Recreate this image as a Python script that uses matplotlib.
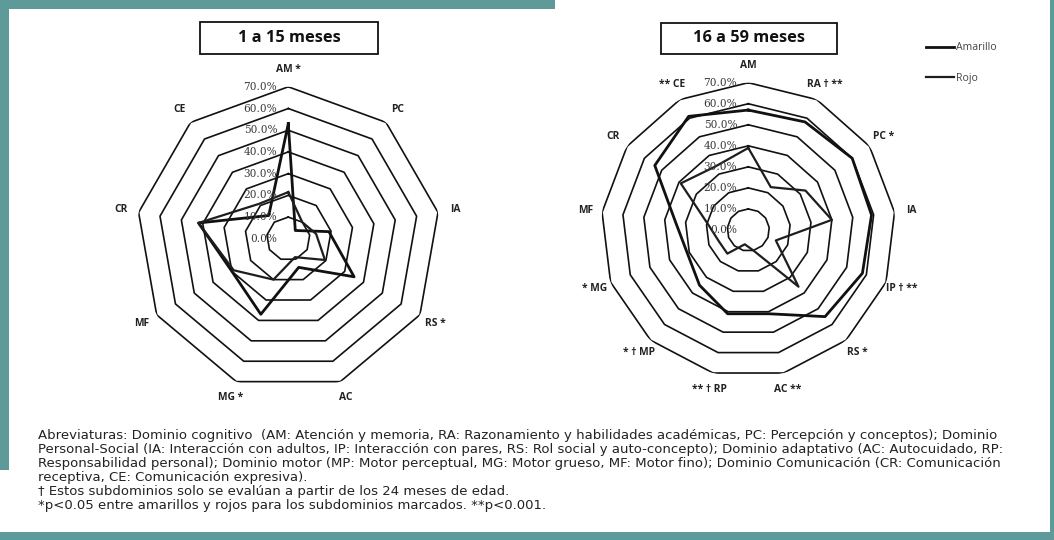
import matplotlib
matplotlib.use("Agg")
import matplotlib.pyplot as plt
import numpy as np
from matplotlib.patches import Rectangle

plt.rcParams["font.family"] = ["Open Sans", "DejaVu Sans"]

# ---- data ----
cats_1 = ["AM *", "PC", "IA", "RS *", "AC", "MG *", "MF", "CR", "CE"]
amarillo_1 = [53, 5, 19, 35, 14, 37, 30, 42, 14]
rojo_1 = [21.5, 10, 13, 19.5, 9, 20, 29, 42, 21]

cats_2 = ["AM", "RA \u2020 **", "PC *", "IA", "IP \u2020 **", "RS *", "AC **",
          "** \u2020 RP", "* \u2020 MP", "* MG", "MF", "CR", "** CE"]
amarillo_2 = [57, 58, 60, 59, 58, 55, 41, 41, 35, 31, 35, 54, 61]
rojo_2 = [39, 23, 33, 40, 14, 36, 10, 7, 15, 15, 19, 39, 34]

rings = [10, 20, 30, 40, 50, 60, 70]
tick_vals = [0, 10, 20, 30, 40, 50, 60, 70]
series_names = ["Amarillo", "Rojo"]

titles = ["1 a 15 meses", "16 a 59 meses"]

notes = [
    "Abreviaturas: Dominio cognitivo  (AM: Atención y memoria, RA: Razonamiento y habilidades académicas, PC: Percepción y conceptos); Dominio",
    "Personal-Social (IA: Interacción con adultos, IP: Interacción con pares, RS: Rol social y auto-concepto); Dominio adaptativo (AC: Autocuidado, RP:",
    "Responsabilidad personal); Dominio motor (MP: Motor perceptual, MG: Motor grueso, MF: Motor fino); Dominio Comunicación (CR: Comunicación",
    "receptiva, CE: Comunicación expresiva).",
    "\u2020 Estos subdominios solo se evalúan a partir de los 24 meses de edad.",
    "*p<0.05 entre amarillos y rojos para los subdominios marcados. **p<0.001.",
]

W, H = 1054, 540
fig = plt.figure(figsize=(W / 100, H / 100), dpi=100)
fig.patch.set_facecolor("white")

TEAL = "#5f9a9a"
# teal frame of the slide
for (x0, y0, w, h) in [(0, 0, 555, 9), (0, 0, 9, 470), (0, 532, W, 8), (W - 4, 0, 4, H)]:
    fig.add_artist(Rectangle((x0 / W, 1 - (y0 + h) / H), w / W, h / H,
                             transform=fig.transFigure, facecolor=TEAL,
                             edgecolor="none", zorder=0))


def px_axes(cx, cy, r):
    # polar axes placed by centre / radius in pixels (from top-left)
    return fig.add_axes([(cx - r) / W, (H - cy - r) / H, 2 * r / W, 2 * r / H],
                        projection="polar")


def radar(ax, cats, a, b):
    n = len(cats)
    ang = np.linspace(0, 2 * np.pi, n, endpoint=False)
    closed = np.append(ang, ang[0])
    ax.set_theta_offset(np.pi / 2)
    ax.set_theta_direction(-1)
    ax.set_ylim(0, 70)
    ax.set_axis_off()
    for r in rings:
        ax.plot(closed, [r] * (n + 1), color="#111111", lw=1.2, zorder=1)
    for t in tick_vals:
        ax.annotate(f"{t:.1f}%", xy=(0, t), xytext=(-11, 0),
                    textcoords="offset pixels", ha="right", va="center",
                    fontsize=7.6, color="#3a3a3a", zorder=4,
                    family=["DejaVu Serif"])
    la, = ax.plot(closed, a + a[:1], color="#111111", lw=2.0, zorder=3)
    lb, = ax.plot(closed, b + b[:1], color="#1e1e1e", lw=1.6, zorder=3)
    for ang_i, c in zip(ang, cats):
        ax.text(ang_i, 78, c, ha="center", va="center", fontsize=7.4,
                fontweight="bold", color="#222222")
    return la, lb


ax1 = px_axes(288.3, 238.8, 152.0)
la, lb = radar(ax1, cats_1, amarillo_1, rojo_1)
ax2 = px_axes(748.3, 230.0, 147.3)
radar(ax2, cats_2, amarillo_2, rojo_2)

# boxed titles
for (x0, y0, x1, y1), t in zip([(200, 22, 378, 54), (661, 23, 837, 54)], titles):
    fig.add_artist(Rectangle((x0 / W, 1 - y1 / H), (x1 - x0) / W, (y1 - y0) / H,
                             transform=fig.transFigure, facecolor="white",
                             edgecolor="#111111", lw=1.3))
    fig.text((x0 + x1) / 2 / W, 1 - (y0 + y1) / 2 / H, t, ha="center", va="center",
             fontsize=11.8, fontweight="bold", color="#111111")

fig.legend([la, lb], series_names, loc="upper left",
           bbox_to_anchor=(916 / W, 1 - 33 / H), frameon=False, fontsize=7.6,
           handlelength=2.7, handletextpad=0.15, labelspacing=1.85,
           labelcolor="#444444")

for i, line in enumerate(notes):
    fig.text(38 / W, 1 - (436 + i * 14) / H, line, ha="left", va="center",
             fontsize=9.5, color="#222222", family=["DejaVu Sans"])

fig.savefig("out.png", dpi=100)
